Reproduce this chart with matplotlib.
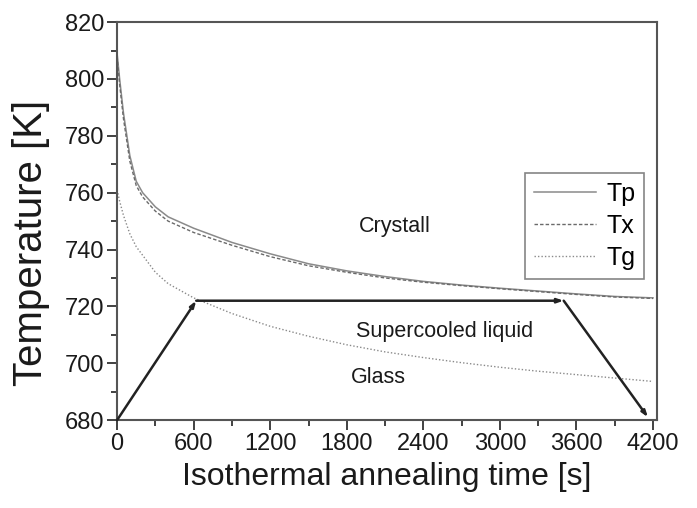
import matplotlib
matplotlib.use("Agg")
import matplotlib.pyplot as plt
from matplotlib.ticker import MultipleLocator

plt.rcParams["font.family"] = ["Liberation Sans", "DejaVu Sans"]

# Isothermal annealing: characteristic temperatures vs time
tiempo = [0, 20, 50, 100, 150, 200, 300, 400, 600, 900, 1200, 1500, 1800,
          2100, 2400, 2700, 3000, 3300, 3600, 3900, 4200]
tp = [809, 800, 788, 773, 764, 760, 755, 751.5, 747.5, 742.5, 738.5, 735,
      732.5, 730.5, 728.8, 727.5, 726.4, 725.4, 724.4, 723.5, 723]
tx = [808, 798, 786, 771, 762.5, 758.5, 753.5, 750, 746, 741.5, 737.5, 734.3,
      732, 730, 728.5, 727.3, 726.2, 725.2, 724.2, 723.3, 722.8]
tg = [761, 757, 752, 745.5, 741, 738, 732, 728, 723, 717.5, 713, 709.5,
      706.5, 704, 702, 700.2, 698.6, 697.2, 696, 694.8, 693.6]

# Temperature programme (heating, isothermal hold, cooling)
programa_t = [0, 620, 3500, 4160]
programa_T = [680, 722, 722, 681]

# Region labels: (text, t, T)
regioes = [("Crystall", 2180, 748),
           ("Supercooled liquid", 2570, 711),
           ("Glass", 2045, 695)]

fig = plt.figure(figsize=(6.97, 5.08), dpi=100)
ax = fig.add_axes([0.168, 0.173, 0.7746, 0.7835])

cinza = "#8a8a8a"
ax.plot(tiempo, tp, color=cinza, lw=1.1, ls="-", label="Tp")
ax.plot(tiempo, tx, color="#6a6a6a", lw=1.0, ls=(0, (2.5, 1.5)), label="Tx")
ax.plot(tiempo, tg, color=cinza, lw=1.0, ls=(0, (1, 1.5)), label="Tg")

# Programme segments drawn as arrows
for i in range(len(programa_t) - 1):
    ax.annotate("", xy=(programa_t[i + 1], programa_T[i + 1]),
                xytext=(programa_t[i], programa_T[i]),
                arrowprops=dict(arrowstyle="-|>,head_length=0.35,head_width=0.12",
                                color="#222222", lw=1.8,
                                shrinkA=0, shrinkB=0))

for texto, t, T in regioes:
    ax.text(t, T, texto, fontsize=15.5, ha="center", va="center", color="#1a1a1a")

ax.set_xlim(0, 4231)
ax.set_ylim(680, 820)
ax.xaxis.set_major_locator(MultipleLocator(600))
ax.xaxis.set_minor_locator(MultipleLocator(300))
ax.yaxis.set_major_locator(MultipleLocator(20))
ax.yaxis.set_minor_locator(MultipleLocator(10))

ax.tick_params(which="both", direction="out", top=False, right=False,
               colors="#333333", labelcolor="#1a1a1a", labelsize=17, width=1.3)
ax.tick_params(which="major", length=7, pad=2)
ax.tick_params(which="minor", length=4)

for lado in ax.spines.values():
    lado.set_color("#555555")
    lado.set_linewidth(1.5)

ax.set_xlabel("Isothermal annealing time [s]", fontsize=23, color="#1a1a1a",
              labelpad=5)
ax.set_ylabel("Temperature [K]", fontsize=29, color="#1a1a1a")
ax.yaxis.set_label_coords(-0.124, 0.445)

leg = ax.legend(loc="upper right", bbox_to_anchor=(0.924, 0.659),
                bbox_transform=fig.transFigure, fontsize=18, frameon=True,
                fancybox=False, edgecolor="#666666", handlelength=2.5,
                handletextpad=0.4, borderpad=0.35, labelspacing=0.32,
                borderaxespad=0)
leg.get_frame().set_linewidth(1.2)

fig.savefig("out.png", dpi=100)
